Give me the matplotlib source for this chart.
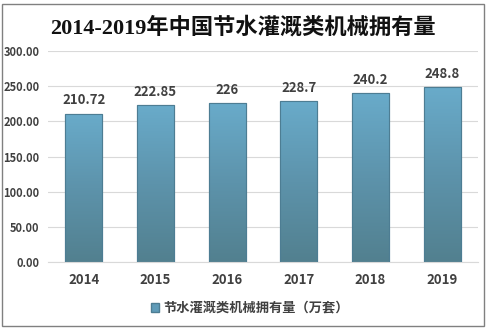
import numpy as np
import matplotlib.pyplot as plt
from matplotlib.patches import Rectangle
from matplotlib.colors import LinearSegmentedColormap

plt.rcParams['font.family'] = ['Noto Sans CJK SC', 'DejaVu Sans']

years = ["2014", "2015", "2016", "2017", "2018", "2019"]
values = [210.72, 222.85, 226, 228.7, 240.2, 248.8]
value_labels = ["210.72", "222.85", "226", "228.7", "240.2", "248.8"]
yticks = [0, 50, 100, 150, 200, 250, 300]

fig = plt.figure(figsize=(4.87, 3.28), dpi=100)
ax = fig.add_axes([48 / 487, 1 - 262 / 328, 430 / 487, 211 / 328])

x = np.arange(len(years))
bars = ax.bar(x, values, width=0.52, color="#5f9bb8", edgecolor="#4d7d93",
              linewidth=0.8, zorder=2)

# vertical gradient inside each bar
grad = np.linspace(0, 1, 256).reshape(-1, 1)
cmap = LinearSegmentedColormap.from_list("g", ["#52808f", "#5d93ab", "#69abca"])
for b in bars:
    x0, w, h = b.get_x(), b.get_width(), b.get_height()
    im = ax.imshow(grad, extent=[x0, x0 + w, 0, h], origin="lower",
                   cmap=cmap, aspect="auto", zorder=2.5)
    im.set_clip_path(b)
    ax.add_patch(Rectangle((x0, 0), w, h, fill=False, edgecolor="#4d7d93",
                           linewidth=0.8, zorder=3))

for xi, v, s in zip(x, values, value_labels):
    ax.text(xi, v + 9, s, ha="center", va="bottom", fontsize=9.5,
            fontweight="bold", color="#404040")

ax.set_xlim(-0.5, len(years) - 0.5)
ax.set_ylim(0, 300)
ax.set_yticks(yticks)
ax.set_yticklabels(["%.2f" % t for t in yticks], fontsize=8,
                   fontweight="bold", color="#404040")
ax.set_xticks(x)
ax.set_xticklabels(years, fontsize=9.5, fontweight="bold", color="#404040")
ax.tick_params(axis="x", length=0, pad=8)
ax.tick_params(axis="y", length=0, pad=6)
ax.grid(axis="y", color="#d9d9d9", linewidth=0.8, zorder=0)
for sp in ["top", "right", "left"]:
    ax.spines[sp].set_visible(False)
ax.spines["bottom"].set_color("#d9d9d9")

fig.text(243 / 487, 1 - 28 / 328, "2014-2019年中国节水灌溉类机械拥有量",
         ha="center", va="center", fontsize=16, fontweight="bold",
         family=["Liberation Serif", "Noto Sans CJK SC"], color="#111111")

leg = fig.legend(handles=[Rectangle((0, 0), 1, 1, facecolor="#5f9bb8",
                                    edgecolor="#4d7d93")],
                 labels=["节水灌溉类机械拥有量（万套）"],
                 loc="center", bbox_to_anchor=(250 / 487, 1 - 308 / 328),
                 frameon=False, handlelength=0.6, handleheight=0.6,
                 handletextpad=0.3, prop={"size": 9.5, "weight": "bold"})
for t in leg.get_texts():
    t.set_color("#404040")

fig.add_artist(Rectangle((2 / 487, 2 / 328), 482 / 487, 322 / 328,
                         transform=fig.transFigure, fill=False,
                         edgecolor="#808080", linewidth=1.0))

fig.savefig("out.png", dpi=100)
